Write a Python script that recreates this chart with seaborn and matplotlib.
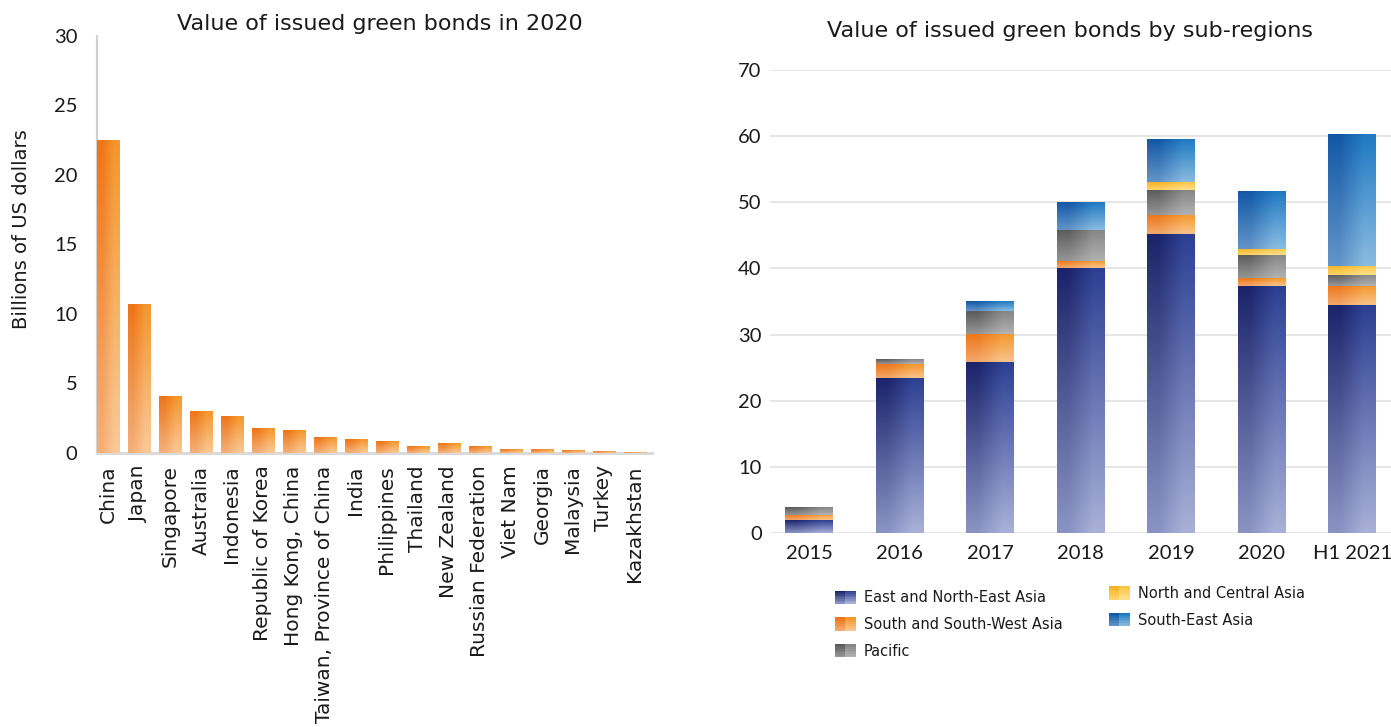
import numpy as np
import pandas as pd
import matplotlib
matplotlib.use("Agg")
import matplotlib.pyplot as plt
import seaborn as sns
from matplotlib.colors import to_rgb
from matplotlib.patches import Rectangle
from matplotlib.legend_handler import HandlerBase

# ---- data -------------------------------------------------------------
countries = ["China", "Japan", "Singapore", "Australia", "Indonesia",
             "Republic of Korea", "Hong Kong, China", "Taiwan, Province of China",
             "India", "Philippines", "Thailand", "New Zealand",
             "Russian Federation", "Viet Nam", "Georgia", "Malaysia",
             "Turkey", "Kazakhstan"]
value_2020 = [22.5, 10.7, 4.1, 2.95, 2.65, 1.75, 1.6, 1.1, 1.0, 0.85,
              0.5, 0.65, 0.45, 0.25, 0.25, 0.17, 0.1, 0.02]

periods = ["2015", "2016", "2017", "2018", "2019", "2020", "H1 2021"]
east_ne_asia = [1.9, 23.5, 25.8, 40.0, 45.2, 37.3, 34.4]
south_sw_asia = [0.8, 2.0, 4.3, 1.1, 2.9, 1.2, 2.9]
pacific = [1.2, 0.7, 3.4, 4.7, 3.8, 3.5, 1.7]
north_central_asia = [0.0, 0.0, 0.0, 0.0, 1.1, 1.0, 1.4]
south_east_asia = [0.0, 0.0, 1.5, 4.1, 6.5, 8.7, 19.9]

region_names = ["East and North-East Asia", "South and South-West Asia",
                "Pacific", "North and Central Asia", "South-East Asia"]
region_values = [east_ne_asia, south_sw_asia, pacific,
                 north_central_asia, south_east_asia]

# gradient corners: top-left, top-right, bottom-left, bottom-right
region_shades = [
    ("#1b246b", "#2c3f93", "#8a94c4", "#a9b1d7"),
    ("#ee7518", "#f5962b", "#f3a86b", "#f9c58c"),
    ("#5a5a5a", "#858585", "#969696", "#b2b2b2"),
    ("#f8b224", "#fcc645", "#fdd46a", "#fee08c"),
    ("#1257a6", "#1f79c2", "#6395c9", "#8bbce1"),
]
orange_shade = ("#ee7518", "#f5962b", "#f4b07a", "#f9ca98")

# ---- style ------------------------------------------------------------
sns.set_theme(style="white")
plt.rcParams["font.family"] = ["DejaVu Sans"]
num_font = ["Lato", "DejaVu Sans"]
text_col = "#1a1a1a"


def gradient_image(shade, n=256):
    tl, tr, bl, br = [np.array(to_rgb(c)) for c in shade]
    t = np.linspace(0, 1, n)[:, None]
    left = (1 - t) * tl + t * bl
    right = (1 - t) * tr + t * br
    return np.stack([left, right], axis=1)


def paint_bars(ax, patches, shade):
    img = gradient_image(shade)
    for p in patches:
        x0, y0 = p.get_x(), p.get_y()
        w, h = p.get_width(), p.get_height()
        if h <= 0:
            continue
        p.set_alpha(0)
        ax.imshow(img, extent=(x0, x0 + w, y0, y0 + h), origin="upper",
                  aspect="auto", interpolation="bilinear", zorder=3)


class GradientHandler(HandlerBase):
    def create_artists(self, legend, orig_handle, xdescent, ydescent,
                       width, height, fontsize, trans):
        tl, tr, bl, br = [np.array(to_rgb(c)) for c in orig_handle.shade]
        arts = []
        rows = 8
        for i in range(rows):
            t = i / (rows - 1)
            cl = (1 - t) * tl + t * bl
            cr = (1 - t) * tr + t * br
            for j, c in enumerate((cl, cr)):
                arts.append(Rectangle(
                    (-xdescent + j * width / 2,
                     -ydescent + height - (i + 1) * height / rows),
                    width / 2, height / rows, facecolor=c,
                    edgecolor="none", transform=trans))
        return arts


class ShadeKey(Rectangle):
    def __init__(self, shade):
        super().__init__((0, 0), 1, 1)
        self.shade = shade


fig = plt.figure(figsize=(13.91, 7.27), dpi=100)

# ---- left: issuance by economy in 2020 ----------------------------------
ax1 = fig.add_axes([0.0697, 0.3769, 0.399, 0.5736])
df1 = pd.DataFrame({"country": countries, "value": value_2020})
sns.barplot(data=df1, x="country", y="value", ax=ax1, width=0.71,
            color=orange_shade[0], saturation=1)
paint_bars(ax1, ax1.patches, orange_shade)
ax1.set_xlim(-0.355, 17.55)
ax1.set_ylim(0, 30)
ax1.set_yticks(range(0, 31, 5))
ax1.set_xlabel("")
ax1.set_ylabel("Billions of US dollars", fontsize=14, color=text_col)
ax1.yaxis.set_label_coords(-0.119, 0.537)
ax1.tick_params(axis="y", labelsize=14.5, colors=text_col, length=0, pad=14)
ax1.tick_params(axis="x", labelsize=14.5, colors=text_col, length=0, pad=9)
plt.setp(ax1.get_xticklabels(), rotation=90, ha="center", va="top")
plt.setp(ax1.get_yticklabels(), family=num_font)
for s in ("top", "right"):
    ax1.spines[s].set_visible(False)
ax1.spines["left"].set_color("#d0d0d0")
ax1.spines["left"].set_linewidth(1.5)
ax1.spines["bottom"].set_color("#dadada")
ax1.spines["bottom"].set_linewidth(2.2)
ax1.set_title("Value of issued green bonds in 2020", fontsize=16,
              color=text_col, pad=4, x=0.51)

# ---- right: stacked by sub-region ---------------------------------------
ax2 = fig.add_axes([0.5536, 0.2669, 0.4464, 0.6368])
bottom = np.zeros(len(periods))
for name, vals, shade in zip(region_names, region_values, region_shades):
    before = len(ax2.patches)
    dfr = pd.DataFrame({"period": periods, "value": vals})
    sns.barplot(data=dfr, x="period", y="value", ax=ax2, width=0.53,
                color=shade[0], saturation=1, bottom=bottom)
    paint_bars(ax2, ax2.patches[before:], shade)
    bottom = bottom + np.array(vals)

ax2.set_xlim(-0.43, 6.43)
ax2.set_ylim(0, 70)
ax2.set_yticks(range(0, 71, 10))
ax2.set_xlabel("")
ax2.set_ylabel("")
ax2.grid(axis="y", color="#e2e2e2", linewidth=1.2, zorder=0)
ax2.set_axisbelow(True)
for s in ax2.spines.values():
    s.set_visible(False)
ax2.tick_params(axis="y", labelsize=14.5, colors=text_col, length=0, pad=6)
ax2.tick_params(axis="x", labelsize=14.5, colors=text_col, length=0, pad=9)
plt.setp(ax2.get_yticklabels(), family=num_font)
plt.setp(ax2.get_xticklabels(), family=num_font)
ax2.set_title("Value of issued green bonds by sub-regions", fontsize=16,
              color=text_col, pad=24, x=0.483)

# legends below the stacked chart
keys = [ShadeKey(s) for s in region_shades]
leg_kw = dict(loc="upper left", frameon=False, fontsize=10.5,
              handler_map={ShadeKey: GradientHandler()},
              handlelength=1.45, handleheight=1.05, labelspacing=0.8,
              handletextpad=0.55, labelcolor=text_col)
fig.legend(keys[:3], region_names[:3], bbox_to_anchor=(0.5905, 0.206),
           **leg_kw)
fig.legend(keys[3:], region_names[3:], bbox_to_anchor=(0.7875, 0.212),
           **leg_kw)

fig.savefig("out.png", dpi=100, facecolor="white")
